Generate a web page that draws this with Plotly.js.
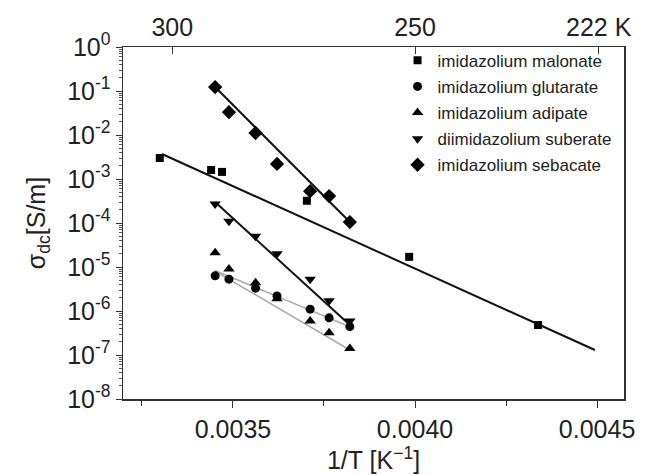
<!DOCTYPE html>
<html><head><meta charset="utf-8">
<script src="https://cdn.plot.ly/plotly-3.0.1.min.js"></script>
<style>body{margin:0;background:#fff}#c{width:649px;height:475px}</style>
</head><body><div id="c"></div>
<script>
// inverse temperature [1/K]
const xMal = [0.003299, 0.00344, 0.00347, 0.003703, 0.003984, 0.004338];
const yMal = [3.0e-3, 1.6e-3, 1.45e-3, 3.2e-4, 1.7e-5, 4.8e-7];
const xSeries = [0.003451, 0.003489, 0.003562, 0.003621, 0.003712, 0.003764, 0.003821];
const yGlu = [6.3e-6, 5.3e-6, 3.3e-6, 2.2e-6, 1.1e-6, 7.0e-7, 4.4e-7];
const yAdi = [2.1e-5, 9.0e-6, 4.4e-6, 1.9e-6, 5.9e-7, 3.2e-7, 1.4e-7];
const ySub = [2.7e-4, 1.1e-4, 5.0e-5, 2.0e-5, 5.3e-6, 1.7e-6, 5.9e-7];
const ySeb = [0.123, 0.033, 0.0111, 2.2e-3, 5.3e-4, 4.1e-4, 1.05e-4];
// fit lines (endpoints)
const fitMalX = [0.003305, 0.004494], fitMalY = [3.7e-3, 1.3e-7];
const fitSebX = [0.003451, 0.003821], fitSebY = [0.123, 1.05e-4];
const fitSubX = [0.003451, 0.003821], fitSubY = [3.0e-4, 4.8e-7];
const fitGluX = [0.003451, 0.003821], fitGluY = [8.3e-6, 4.4e-7];
const fitAdiX = [0.003451, 0.003821], fitAdiY = [8.0e-6, 1.3e-7];
const names = ['imidazolium malonate','imidazolium glutarate','imidazolium adipate','diimidazolium suberate','imidazolium sebacate'];
const yTickVals = [1, 1e-1, 1e-2, 1e-3, 1e-4, 1e-5, 1e-6, 1e-7, 1e-8];
const yTickText = ['0','-1','-2','-3','-4','-5','-6','-7','-8'].map(e => '10<sup>' + e + '</sup>');
const topTemps = [300, 250, 222];
const topText = ['300', '250', '222 K'];

const xr = [0.003198, 0.004574];
const traces = [];
function fit(x, y, color, w) {
  traces.push({x: x, y: y, mode: 'lines', line: {color: color, width: w}, showlegend: false, hoverinfo: 'skip'});
}
fit(fitMalX, fitMalY, '#111', 2);
fit(fitSebX, fitSebY, '#111', 2);
fit(fitSubX, fitSubY, '#111', 2);
fit(fitGluX, fitGluY, '#aaaaaa', 1.5);
fit(fitAdiX, fitAdiY, '#aaaaaa', 1.5);
const sets = [
  [xMal, yMal, 'square', 8],
  [xSeries, yGlu, 'circle', 9],
  [xSeries, yAdi, 'triangle-up', 10],
  [xSeries, ySub, 'triangle-down', 10],
  [xSeries, ySeb, 'diamond', 11]
];
sets.forEach((s, i) => traces.push({
  x: s[0], y: s[1], mode: 'markers', name: names[i], legendgroup: 'g' + i,
  marker: {symbol: s[2], size: s[3], color: '#000'}
}));
traces.push({x: topTemps.map(t => 1 / t), y: [1e-9, 1e-9, 1e-9], xaxis: 'x2', mode: 'markers',
  marker: {opacity: 0}, showlegend: false, hoverinfo: 'skip'});

const layout = {
  width: 649, height: 475,
  margin: {l: 123, r: 25, t: 47, b: 76},
  paper_bgcolor: '#fff', plot_bgcolor: '#fff',
  font: {family: 'Liberation Sans, Arial, sans-serif', color: '#222'},
  showlegend: true,
  legend: {x: 0.548, y: 1.012, xanchor: 'left', yanchor: 'top', bgcolor: 'rgba(0,0,0,0)',
    font: {size: 17, color: '#222'}, traceorder: 'grouped', tracegroupgap: 1},
  xaxis: {range: xr, showgrid: false, zeroline: false, showline: true, linecolor: '#333', linewidth: 1.5,
    mirror: false, tick0: 0.0035, dtick: 0.0005, tickformat: '.4f', ticks: 'outside', ticklen: 7,
    tickcolor: '#333', tickfont: {size: 25, color: '#222'},
    minor: {dtick: 0.00025, tick0: 0.0035, ticks: 'outside', ticklen: 5, tickcolor: '#333'},
    title: {text: '1/T [K<sup>−1</sup>]', font: {size: 25, color: '#222'}, standoff: 0}},
  xaxis2: {range: xr, overlaying: 'x', side: 'top', showgrid: false, zeroline: false, showline: true,
    linecolor: '#333', linewidth: 1.5, tickmode: 'array', tickvals: topTemps.map(t => 1 / t), ticktext: topText,
    ticks: 'inside', ticklen: 7, tickcolor: '#333', tickfont: {size: 25, color: '#222'}},
  yaxis: {type: 'log', range: [-8, 0], showgrid: false, zeroline: false, showline: true, linecolor: '#333',
    linewidth: 1.5, mirror: true, tickmode: 'array', tickvals: yTickVals, ticktext: yTickText,
    ticks: 'outside', ticklen: 6, tickcolor: '#333', tickfont: {size: 25, color: '#222'},
    minor: {dtick: 'D1', ticks: 'outside', ticklen: 3, tickcolor: '#555'},
    title: {text: 'σ<sub>dc</sub>[S/m]', font: {size: 25, color: '#222'}, standoff: 14}}
};
Plotly.newPlot('c', traces, layout, {displayModeBar: false, staticPlot: true});
</script></body></html>
